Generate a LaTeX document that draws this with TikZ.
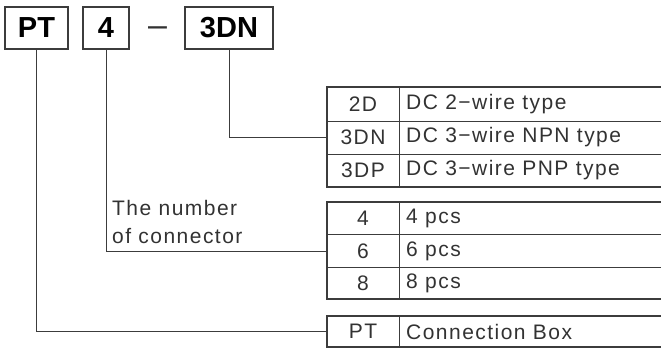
\documentclass[tikz,border=0pt]{standalone}
\usepackage{fontspec}
\setmainfont{Liberation Sans}
\newfontfamily\tabfont[LetterSpace=7]{Liberation Sans}
\usetikzlibrary{positioning}
\definecolor{inkgray}{RGB}{50,50,50}
\definecolor{linegray}{RGB}{60,60,60}

\begin{document}
\begin{tikzpicture}[x=1pt,y=-1pt,
    code/.style={draw=linegray,line width=1.6pt,minimum height=42pt,inner sep=0pt,
      font=\fontsize{29}{29}\selectfont\bfseries},
    cell/.style={minimum width=72pt,inner sep=0pt,text=inkgray,
      font=\tabfont\fontsize{21}{28}\selectfont},
    desc/.style={anchor=west,inner sep=0pt,text=inkgray,
      font=\tabfont\fontsize{21}{28}\selectfont},
    frame/.style={draw=linegray,line width=1.6pt},
    rule/.style={draw=linegray,line width=0.8pt},
    wire/.style={draw=linegray,line width=0.9pt}]
\useasboundingbox (0,0) rectangle (661,351);

% Code boxes
\node[code,minimum width=63pt] (pt) at (36.5,28) {PT};
\node[code,minimum width=46pt] (num) at (106,28) {4};
\node[anchor=base,inner sep=0pt,text=inkgray,font=\fontsize{34}{34}\selectfont] (dash) at (157.5,36.5) {–};
\node[code,minimum width=88pt] (type) at (229,28) {3DN};

% Output type table
\node[cell,minimum height=34pt] (c2d) at (363,104) {2D};
\node[cell,minimum height=33pt] (c3dn) at (363,137.5) {3DN};
\node[cell,minimum height=33pt] (c3dp) at (363,170.5) {3DP};
\node[desc] (d2d) at (406,104) {DC 2−wire type};
\node[desc] (d3dn) at (406,137.5) {DC 3−wire NPN type};
\node[desc] (d3dp) at (406,170.5) {DC 3−wire PNP type};
\draw[rule] (327,121) -- (661,121);
\draw[rule] (327,154) -- (661,154);
\draw[rule] (399,87) -- (399,187);
\draw[frame] (661,87) -| (327,187) -- (661,187);

% Connector number table
\node[cell,minimum height=32pt] (c4) at (363,218.5) {4};
\node[cell,minimum height=32pt] (c6) at (363,251) {6};
\node[cell,minimum height=32pt] (c8) at (363,283) {8};
\node[desc] (d4) at (406,218.5) {4 pcs};
\node[desc] (d6) at (406,251) {6 pcs};
\node[desc] (d8) at (406,283) {8 pcs};
\draw[rule] (327,234.5) -- (661,234.5);
\draw[rule] (327,267) -- (661,267);
\draw[rule] (399,202) -- (399,299);
\draw[frame] (661,202) -| (327,299) -- (661,299);
\node[desc,align=left] (numlabel) at (112,222) {The number\\of connector};

% Model table
\node[cell,minimum height=31pt] (cpt) at (363,331.5) {PT};
\node[desc] (dpt) at (406,331.5) {Connection Box};
\draw[rule] (399,316) -- (399,347);
\draw[frame] (661,316) -| (327,347) -- (661,347);

% Connections
\draw[wire] (type.south) |- (c3dn.west);
\draw[wire] (num.south) |- (c6.west);
\draw[wire] (pt.south) |- (cpt.west);
\end{tikzpicture}
\end{document}
